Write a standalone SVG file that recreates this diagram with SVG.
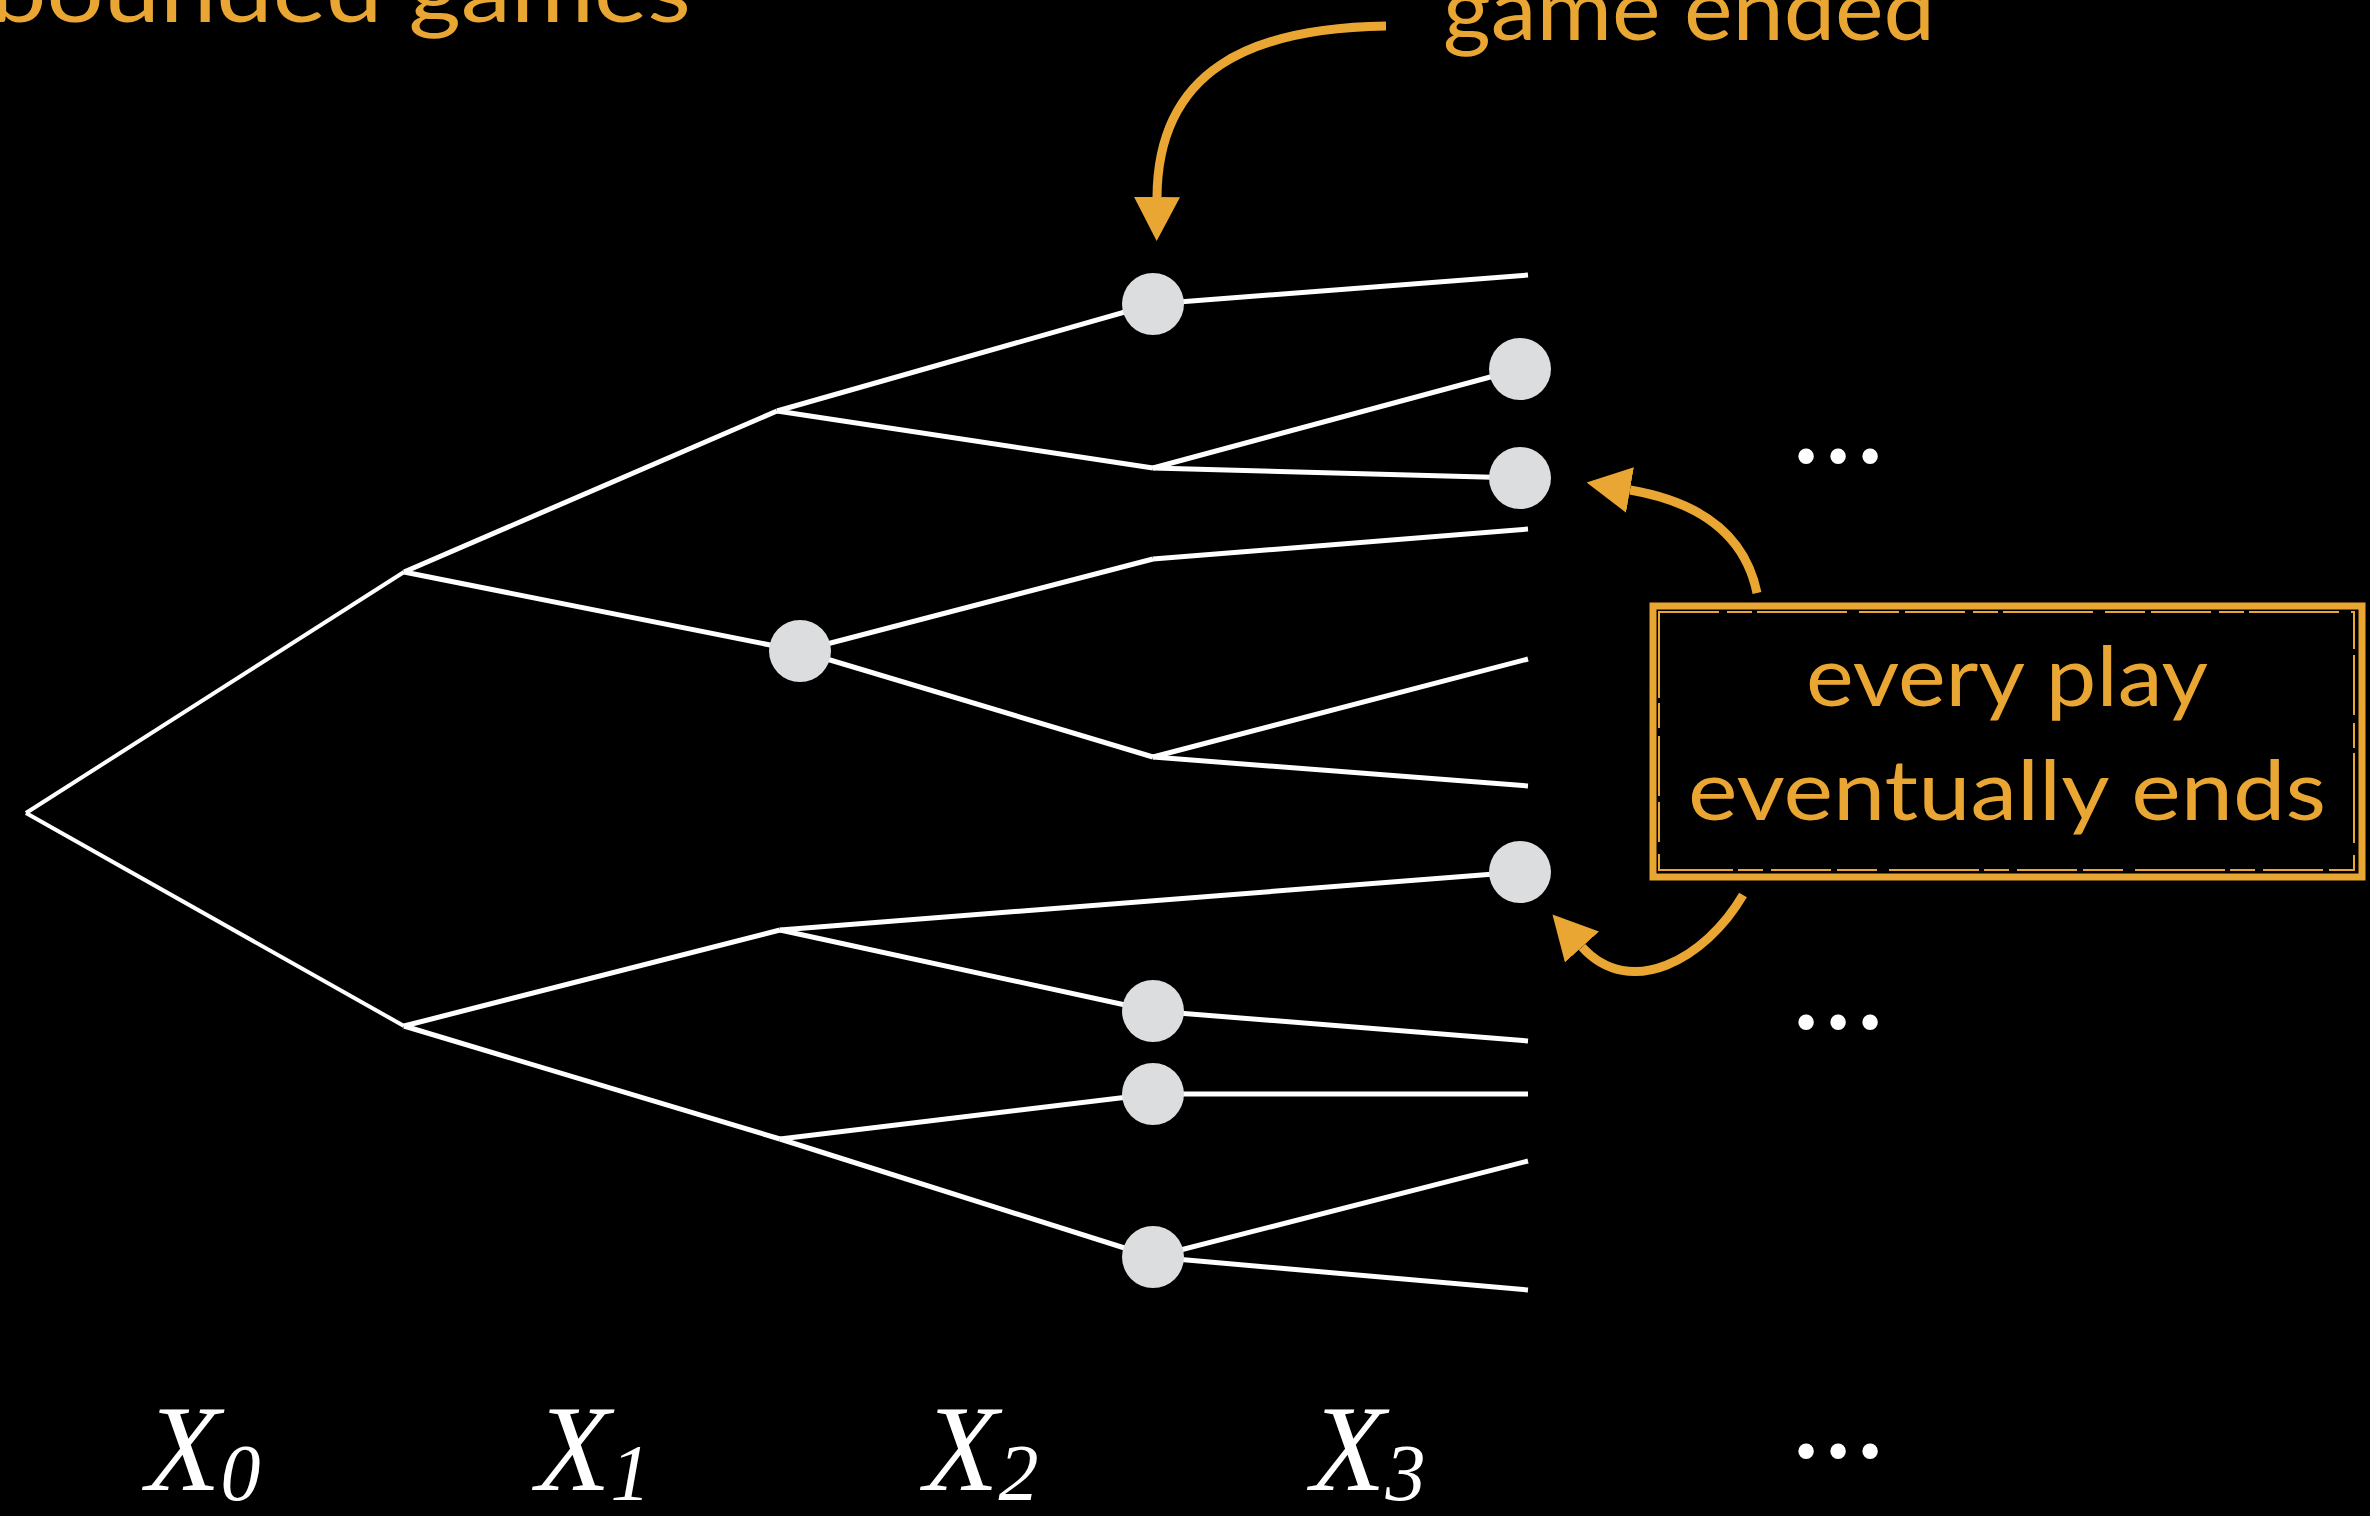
<svg xmlns="http://www.w3.org/2000/svg" width="2370" height="1516" viewBox="0 0 2370 1516">
  <style>
    .edge { stroke: #ffffff; stroke-width: 5; fill: none; stroke-linecap: butt; stroke-linejoin: miter; }
    .edge.root { stroke-width: 4; }
    .node { fill: #dcdddf; }
    .hand { font-family: "Lato", "Open Sans", "Liberation Sans", sans-serif; fill: #e9a633; }
    .callout { stroke: #e9a633; stroke-width: 9; fill: none; stroke-linecap: butt; }
    .lvl { font-family: "Liberation Serif", "DejaVu Serif", serif; font-style: italic; font-size: 122px; fill: #ffffff; }
    .lvl tspan { font-size: 80px; }
    .dots { font-family: "Liberation Serif", "DejaVu Serif", serif; font-weight: bold; font-size: 95px; fill: #ffffff; text-anchor: middle; }
  </style>
  <defs>
    <marker id="head" viewBox="0 0 44 46" refX="0" refY="23" markerWidth="44" markerHeight="46" markerUnits="userSpaceOnUse" orient="auto">
      <path d="M0,0 L44,23 L0,46 Z" fill="#e9a633"/>
    </marker>
  </defs>

  <rect width="2370" height="1516" fill="#000000"/>

  <!-- titles, partly outside the frame -->
  <text class="hand" x="-10" y="22" font-size="88" textLength="701" lengthAdjust="spacingAndGlyphs">bounded games</text>
  <text class="hand" x="1443" y="40" font-size="88" textLength="492" lengthAdjust="spacingAndGlyphs">game ended</text>

  <!-- tree edges -->
  <g id="edges">
    <line class="edge root" x1="26" y1="813" x2="404" y2="572"/>
    <line class="edge root" x1="26" y1="813" x2="404" y2="1026"/>
    <line class="edge" x1="404" y1="572" x2="777" y2="411"/>
    <line class="edge" x1="404" y1="572" x2="800" y2="651"/>
    <line class="edge" x1="404" y1="1026" x2="780" y2="930"/>
    <line class="edge" x1="404" y1="1026" x2="780" y2="1139"/>
    <line class="edge" x1="777" y1="411" x2="1153" y2="304"/>
    <line class="edge" x1="777" y1="411" x2="1153" y2="468"/>
    <line class="edge" x1="800" y1="651" x2="1153" y2="559"/>
    <line class="edge" x1="800" y1="651" x2="1153" y2="757"/>
    <line class="edge" x1="780" y1="930" x2="1153" y2="1011"/>
    <line class="edge" x1="780" y1="930" x2="1520" y2="872"/>
    <line class="edge" x1="780" y1="1139" x2="1153" y2="1094"/>
    <line class="edge" x1="780" y1="1139" x2="1153" y2="1257"/>
    <line class="edge" x1="1153" y1="304" x2="1528" y2="275"/>
    <line class="edge" x1="1153" y1="468" x2="1520" y2="369"/>
    <line class="edge" x1="1153" y1="468" x2="1520" y2="478"/>
    <line class="edge" x1="1153" y1="559" x2="1528" y2="529"/>
    <line class="edge" x1="1153" y1="757" x2="1528" y2="659"/>
    <line class="edge" x1="1153" y1="757" x2="1528" y2="786"/>
    <line class="edge" x1="1153" y1="1011" x2="1528" y2="1041"/>
    <line class="edge" x1="1153" y1="1094" x2="1528" y2="1094"/>
    <line class="edge" x1="1153" y1="1257" x2="1528" y2="1161"/>
    <line class="edge" x1="1153" y1="1257" x2="1528" y2="1290"/>
  </g>

  <!-- terminal positions -->
  <g id="n-b2"><circle class="node" cx="800" cy="651" r="31"/></g>
  <g id="n-c1"><circle class="node" cx="1153" cy="304" r="31"/></g>
  <g id="n-c5"><circle class="node" cx="1153" cy="1011" r="31"/></g>
  <g id="n-c6"><circle class="node" cx="1153" cy="1094" r="31"/></g>
  <g id="n-c7"><circle class="node" cx="1153" cy="1257" r="31"/></g>
  <g id="n-d1"><circle class="node" cx="1520" cy="369" r="31"/></g>
  <g id="n-d2"><circle class="node" cx="1520" cy="478" r="31"/></g>
  <g id="n-d3"><circle class="node" cx="1520" cy="872" r="31"/></g>

  <!-- continuation dots -->
  <text class="dots" x="1838" y="463">…</text>
  <text class="dots" x="1838" y="1029">…</text>

  <!-- callout arrows -->
  <g id="callouts">
    <path class="callout" d="M1386,26 C1250,28 1158,70 1157,197" marker-end="url(#head)"/>
    <path class="callout" d="M1757,593 C1745,535 1700,502 1630,490" marker-end="url(#head)"/>
    <path class="callout" d="M1743,895 C1705,960 1630,1000 1582,947" marker-end="url(#head)"/>
  </g>

  <!-- callout box -->
  <g id="note">
    <rect x="1653" y="606" width="709" height="271" fill="none" stroke="#e9a633" stroke-width="7"/>
    <rect x="1659" y="612" width="695" height="258" fill="none" stroke="#e9a633" stroke-width="2" stroke-dasharray="60 8 25 5 90 12 40 6"/>
    <text class="hand" x="2007" y="706" font-size="84" text-anchor="middle" textLength="402" lengthAdjust="spacingAndGlyphs">every play</text>
    <text class="hand" x="2007" y="820" font-size="84" text-anchor="middle" textLength="638" lengthAdjust="spacingAndGlyphs">eventually ends</text>
  </g>

  <!-- level labels -->
  <g id="levels">
    <text class="lvl" x="146" y="1490">X<tspan dy="10">0</tspan></text>
    <text class="lvl" x="536" y="1490">X<tspan dy="10">1</tspan></text>
    <text class="lvl" x="924" y="1490">X<tspan dy="10">2</tspan></text>
    <text class="lvl" x="1311" y="1490">X<tspan dy="10">3</tspan></text>
    <text class="dots" x="1838" y="1458">…</text>
  </g>
</svg>
